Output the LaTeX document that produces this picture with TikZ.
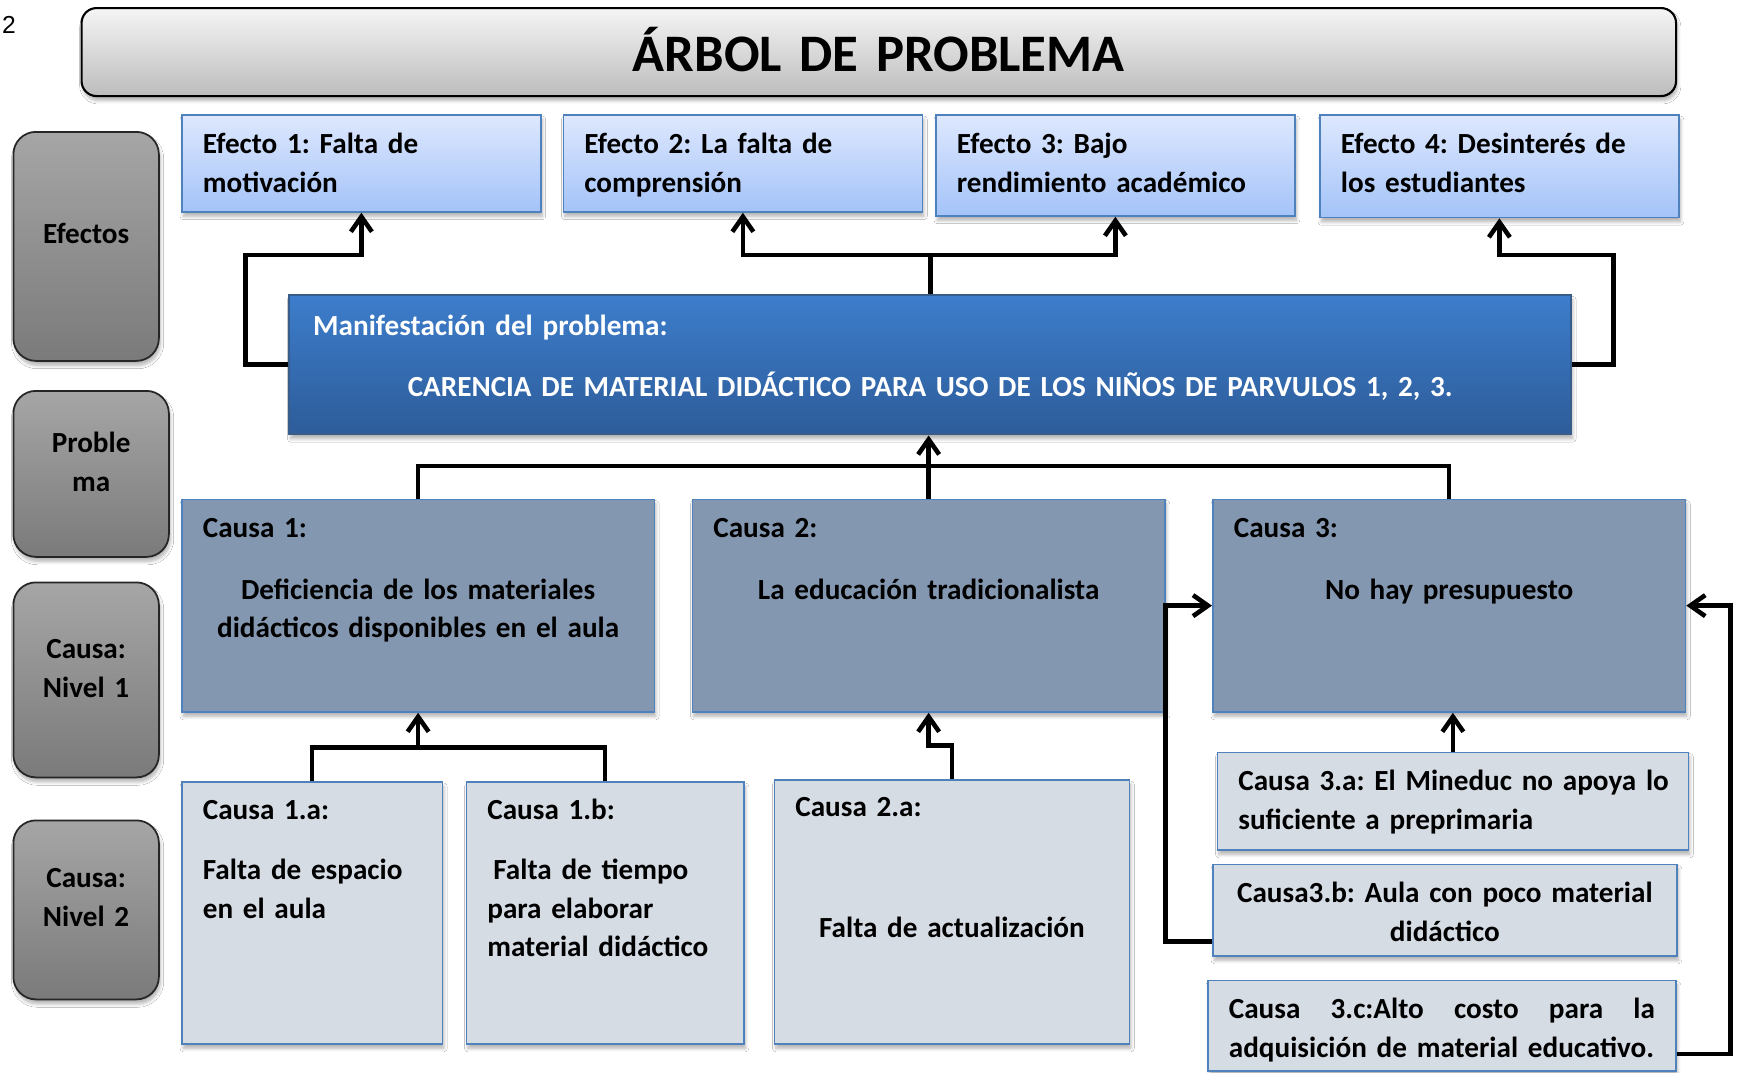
\documentclass[tikz,border=0pt]{standalone}
\usepackage{fontspec}
\setmainfont{Carlito}
\newfontfamily\numfont{Liberation Sans}
\usetikzlibrary{arrows.meta}
\usetikzlibrary{calc}
\usetikzlibrary{shadows.blur}
\frenchspacing

\definecolor{effecttop}{RGB}{222,232,254}
\definecolor{effectbot}{RGB}{164,195,248}
\definecolor{boxline}{RGB}{79,129,189}
\definecolor{probtop}{RGB}{61,125,204}
\definecolor{probbot}{RGB}{45,92,153}
\definecolor{probline}{RGB}{56,93,138}
\definecolor{causefill}{RGB}{132,151,176}
\definecolor{subfill}{RGB}{214,220,228}

\newcommand{\treefont}{\fontsize{16.6}{22}\selectfont\bfseries\frenchspacing}
\newcommand{\treeheadfont}{\fontsize{30}{36}\selectfont\bfseries}

\tikzset{
	boxdim/.style n args={3}{text width=#1, text height=#2, text depth=#3},
	softshadow/.style={blur shadow={shadow xshift=0.03cm, shadow yshift=-0.09cm, shadow blur steps=6, shadow opacity=30}},
	headbox/.style={draw=black, line width=1.2pt, rounded corners=0.3cm, top color=gray!8, bottom color=gray!52, anchor=north west, inner xsep=0.3cm, inner ysep=0pt, align=center, font=\treeheadfont, softshadow},
	sidebox/.style={draw=black!85, line width=1pt, rounded corners=0.45cm, top color=black!35, bottom color=black!52, anchor=north west, inner xsep=0.1cm, inner ysep=0pt, align=center, font=\treefont, softshadow},
	effectbox/.style={draw=boxline, line width=1pt, top color=effecttop, bottom color=effectbot, anchor=north west, inner xsep=0.42cm, inner ysep=0pt, font=\treefont, softshadow},
	probbox/.style={draw=probline, line width=1.4pt, top color=probtop, bottom color=probbot, anchor=north west, inner xsep=0.48cm, inner ysep=0pt, text=white, font=\treefont, softshadow},
	causebox/.style={draw=boxline, line width=1pt, fill=causefill, anchor=north west, inner xsep=0.42cm, inner ysep=0pt, font=\treefont, softshadow},
	subbox/.style={draw=boxline, line width=1pt, fill=subfill, anchor=north west, inner xsep=0.42cm, inner ysep=0pt, font=\treefont, softshadow},
	wire/.style={draw=black, line width=2.6pt},
	link/.style={wire, -{Straight Barb[length=3mm,width=4.2mm]}},
}

\begin{document}
\begin{tikzpicture}
	\useasboundingbox[fill=white] (0,0) rectangle (34.84,-21.44);

	% nodes
	\node[anchor=base, inner sep=0pt, font=\numfont\fontsize{14}{16}\selectfont] (pagenum) at (0.18,-0.66) {2};%
	\node[headbox, boxdim={31.29cm}{1.27cm}{0.49cm}] (head) at (1.61,-0.14) {ÁRBOL DE PROBLEMA};%

	\node[sidebox, boxdim={2.71cm}{2.24cm}{2.34cm}] (lblefe) at (0.25,-2.62) {Efectos};%
	\node[sidebox, boxdim={2.91cm}{1.23cm}{2.09cm}] (lblprob) at (0.25,-7.8) {Proble\\ma};%
	\node[sidebox, boxdim={2.71cm}{1.52cm}{2.38cm}] (lblone) at (0.25,-11.63) {Causa:\\Nivel 1};%
	\node[sidebox, boxdim={2.71cm}{1.35cm}{2.23cm}] (lbltwo) at (0.25,-16.39) {Causa:\\Nivel 2};%

	\node[effectbox, boxdim={6.34cm}{0.78cm}{1.16cm}] (e1) at (3.62,-2.28) {Efecto 1: Falta de\\motivación};%
	\node[effectbox, boxdim={6.34cm}{0.78cm}{1.16cm}] (e2) at (11.25,-2.28) {Efecto 2: La falta de\\comprensión};%
	\node[effectbox, boxdim={6.34cm}{0.78cm}{1.24cm}] (e3) at (18.7,-2.28) {Efecto 3: Bajo\\rendimiento académico};%
	\node[effectbox, boxdim={6.34cm}{0.78cm}{1.27cm}] (e4) at (26.38,-2.28) {Efecto 4: Desinterés de\\los estudiantes};%

	\node[probbox, boxdim={24.68cm}{0.8cm}{1.98cm}] (prob) at (5.76,-5.88) {{\raggedright Manifestación del problema:\par}\vspace{0.45cm}{\centering CARENCIA DE MATERIAL DIDÁCTICO PARA USO DE LOS NIÑOS DE PARVULOS 1, 2, 3.\par}};%

	\node[causebox, boxdim={8.61cm}{0.77cm}{3.48cm}] (c1) at (3.62,-9.97) {Causa 1:\par\vspace{0.45cm}{\centering Deficiencia de los materiales\\didácticos disponibles en el aula\par}};%
	\node[causebox, boxdim={8.61cm}{0.77cm}{3.48cm}] (c2) at (13.83,-9.97) {Causa 2:\par\vspace{0.45cm}{\centering La educación tradicionalista\par}};%
	\node[causebox, boxdim={8.61cm}{0.77cm}{3.48cm}] (c3) at (24.24,-9.97) {Causa 3:\par\vspace{0.45cm}{\centering No hay presupuesto\par}};%

	\node[subbox, boxdim={4.37cm}{0.75cm}{4.49cm}] (c1a) at (3.62,-15.62) {Causa 1.a:\par\vspace{0.43cm}Falta de espacio\\en el aula};%
	\node[subbox, boxdim={4.71cm}{0.75cm}{4.49cm}] (c1b) at (9.31,-15.62) {Causa 1.b:\par\vspace{0.43cm}\hspace{0.12cm}Falta de tiempo\\para elaborar\\material didáctico};%
	\node[subbox, boxdim={6.26cm}{0.74cm}{4.54cm}] (c2a) at (15.47,-15.58) {Causa 2.a:\par\vspace{1.64cm}{\centering Falta de actualización\par}};%
	\node[subbox, boxdim={8.58cm}{0.77cm}{1.18cm}] (c3a) at (24.33,-15.03) {{\raggedright \makebox[0pt][l]{Causa 3.a: El Mineduc no apoya lo}\\suficiente a preprimaria\par}};%
	\node[subbox, boxdim={8.44cm}{0.77cm}{1.06cm}, align=center] (c3b) at (24.24,-17.27) {Causa3.b: Aula con poco material\\didáctico};%
	\node[subbox, boxdim={8.52cm}{0.77cm}{1.04cm}] (c3c) at (24.14,-19.59) {Causa\hfill 3.c:Alto\hfill costo\hfill para\hfill la\\adquisición de material educativo.};%

	% bus levels
	\coordinate (effbus) at (0,-5.1);
	\coordinate (causebus) at (0,-9.32);
	\coordinate (onebus) at ($(c1.south)+(0,-0.7)$);

	% edges
	\draw[link] (prob.west) -- ++(-0.85,0) |- (e1.south |- effbus) -- (e1.south);
	\draw[wire] (prob.north) -- (prob.north |- effbus);
	\draw[link] (prob.north |- effbus) -| (e2.south);
	\draw[link] (prob.north |- effbus) -| (e3.south);
	\draw[link] (prob.east) -- ++(0.82,0) |- (e4.south |- effbus) -- (e4.south);

	\draw[wire] (c1.north) |- (c3.north |- causebus) -- (c3.north);
	\draw[link] (c2.north) -- (c2.north |- prob.south);

	\draw[wire] (c1a.north) |- (onebus) -| (c1b.north);
	\draw[link] (onebus) -- (c1.south);
	\draw[link] (c2a.north) |- ($(c2.south)+(0,-0.66)$) -- (c2.south);
	\draw[link] (c3a.north) -- (c3a.north |- c3.south);
	\draw[link] ($(c3b.south west)+(0,0.31)$) -- ++(-0.93,0) |- (c3.west);
	\draw[link] ($(c3c.north east)+(0,-1.49)$) -- ++(1.08,0) |- (c3.east);
\end{tikzpicture}
\end{document}
